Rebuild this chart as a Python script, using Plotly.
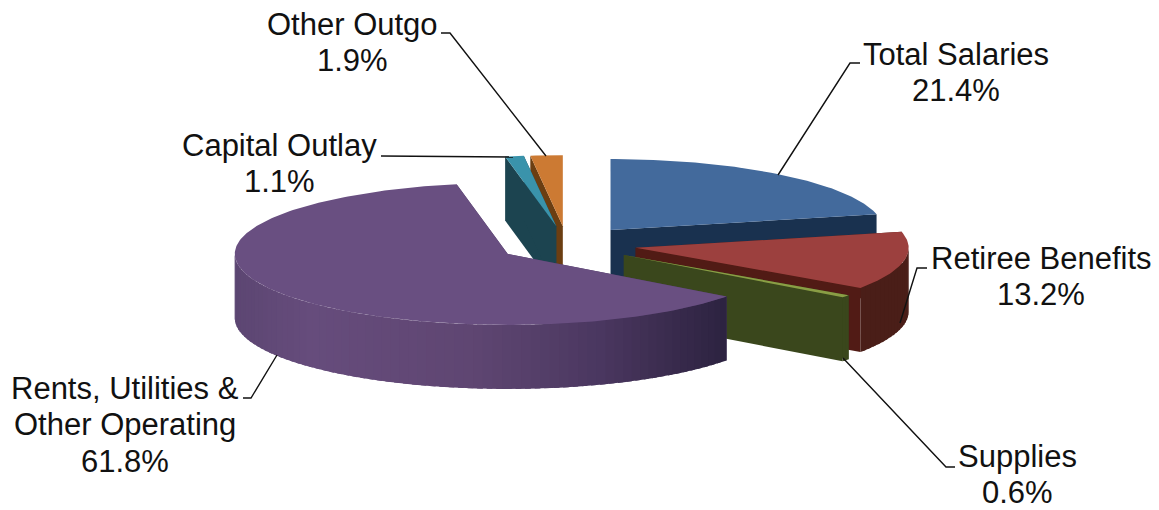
import math
import plotly.graph_objects as go

# ---- data ----
categories = ["Total Salaries", "Retiree Benefits", "Supplies",
              "Rents, Utilities &<br>Other Operating", "Capital Outlay", "Other Outgo"]
values = [21.4, 13.2, 0.6, 61.8, 1.1, 1.9]
tick_labels = ["21.4%", "13.2%", "0.6%", "61.8%", "1.1%", "1.9%"]

# ---- styles ----
top_colors = ["#436A9C", "#9C403E", "#8A9E45", "#694F81", "#3A93AB", "#CC7A33"]
wall_colors = ["#19314F", "#511B15", "#3A471C", "#4A3760", "#1C4450", "#6B3E12"]
rim_stops = {
    1: [(600, "#4A1E18"), (910, "#4A1E18")],
    2: [(600, "#3A471C"), (910, "#3A471C")],
    3: [(235, "#5C4672"), (310, "#664C7C"), (470, "#5F4672"), (530, "#56406A"),
        (600, "#4A3760"), (660, "#3C2D50"), (728, "#2C2240")],
}
draw_order = [5, 4, 0, 1, 2, 3]
CX, CY, A, B, DEPTH, PULL = 567, 244.3, 273, 71, 64, 0.256
FONT = dict(family="Liberation Sans, Arial, sans-serif", size=31, color="#111111")
LINE_H = 36.5
# centre x, centre y of the first text line
label_pos = [(956, 54), (1041, 258), (1017, 456), (125, 388), (279, 145), (352, 24)]
leaders = [
    [(860, 63), (850, 63), (778, 175)],
    [(927, 268), (917, 268), (900, 323)],
    [(955, 467), (946, 467), (843, 358)],
    [(243, 398), (251, 398), (277, 355)],
    [(381, 156), (513, 157)],
    [(441, 33), (450, 33), (546, 156)],
]


def hex_rgb(h):
    return tuple(int(h[i:i + 2], 16) for i in (1, 3, 5))


def grad(stops, x):
    if x <= stops[0][0]:
        return stops[0][1]
    for (x0, c0), (x1, c1) in zip(stops, stops[1:]):
        if x <= x1:
            t = (x - x0) / (x1 - x0)
            r = [round(u + (v - u) * t) for u, v in zip(hex_rgb(c0), hex_rgb(c1))]
            return "rgb(%d,%d,%d)" % tuple(r)
    return stops[-1][1]


total = sum(values)
edges = [0.0]
for v in values:
    edges.append(edges[-1] + v / total * 2 * math.pi)

fig = go.Figure()


def poly(xs, ys, color):
    fig.add_trace(go.Scatter(
        x=xs, y=ys, mode="lines", fill="toself", fillcolor=color,
        line=dict(width=0), hoverinfo="skip", showlegend=False))


for i in draw_order:
    t0, t1 = edges[i], edges[i + 1]
    mid = (t0 + t1) / 2
    ax = CX + PULL * A * math.sin(mid)
    ay = CY - PULL * B * math.cos(mid)

    def pt(t):
        return ax + A * math.sin(t), ay - B * math.cos(t)

    # straight cut walls
    for t in (t0, t1):
        px, py = pt(t)
        poly([ax, px, px, ax, ax], [ay, py, py + DEPTH, ay + DEPTH, ay], wall_colors[i])

    # outer rim, front half only, in narrow overlapping strips for shading
    r0, r1 = max(t0, math.pi / 2), min(t1, 3 * math.pi / 2)
    if r1 > r0:
        n = max(2, int((r1 - r0) / math.radians(2)))
        for k in range(n):
            a0 = r0 + (r1 - r0) * k / n
            a1 = r0 + (r1 - r0) * min(k + 1.6, n) / n
            am = (a0 + r0 + (r1 - r0) * (k + 1) / n) / 2
            arc = [pt(a0 + (a1 - a0) * j / 3) for j in range(4)]
            xs = [p[0] for p in arc]
            up = [p[1] for p in arc]
            poly(xs + xs[::-1] + [xs[0]], up + [y + DEPTH for y in up[::-1]] + [up[0]],
                 grad(rim_stops[i], pt(am)[0]))

    # top face
    n = max(6, int((t1 - t0) / math.radians(1)))
    arc = [pt(t0 + (t1 - t0) * k / n) for k in range(n + 1)]
    poly([ax] + [p[0] for p in arc] + [ax], [ay] + [p[1] for p in arc] + [ay], top_colors[i])

# leader lines
for path in leaders:
    fig.add_trace(go.Scatter(
        x=[p[0] for p in path], y=[p[1] for p in path], mode="lines",
        line=dict(color="#111111", width=1.4), hoverinfo="skip", showlegend=False))

# labels, one annotation per text line so the line spacing can be set
for name, pct, (lx, ly) in zip(categories, tick_labels, label_pos):
    for j, line in enumerate(name.split("<br>") + [pct]):
        fig.add_annotation(x=lx, y=ly + j * LINE_H, text=line, showarrow=False,
                           font=FONT, xanchor="center", yanchor="middle")

fig.update_layout(
    width=1159, height=510, margin=dict(l=0, r=0, t=0, b=0),
    paper_bgcolor="white", plot_bgcolor="white", showlegend=False,
    xaxis=dict(range=[0, 1159], visible=False, fixedrange=True),
    yaxis=dict(range=[510, 0], visible=False, fixedrange=True),
)
fig.write_html("out.html", config=dict(displayModeBar=False),
               post_script="document.body.style.margin='0';document.body.style.overflow='hidden';")
